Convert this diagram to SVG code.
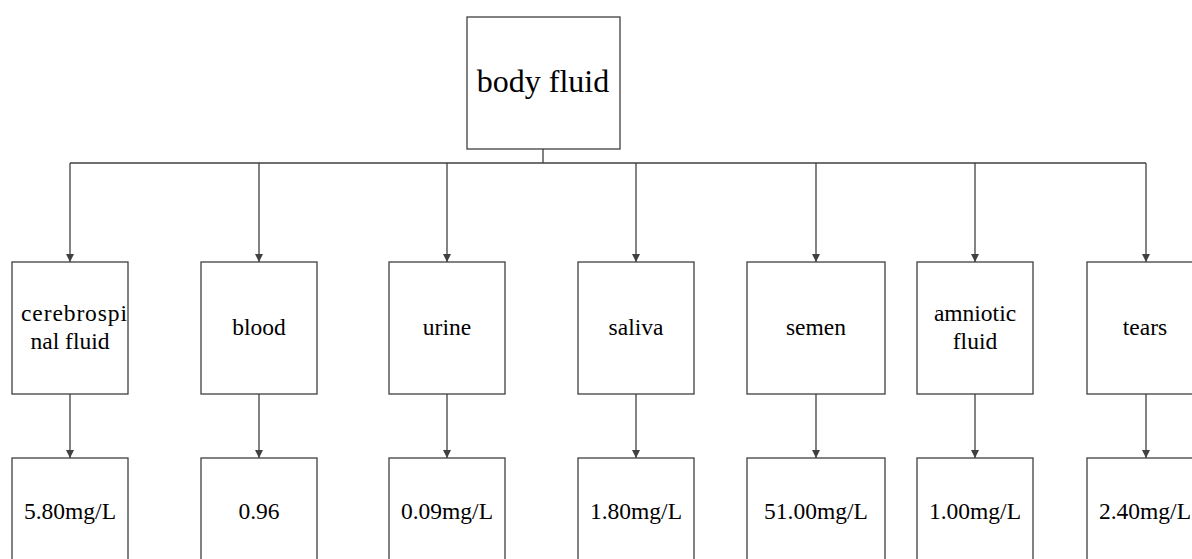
<svg xmlns="http://www.w3.org/2000/svg" width="1192" height="559" viewBox="0 0 1192 559">
<style>
.box{fill:#fff;stroke:#404040;stroke-width:1.3}
text{font-family:'Liberation Serif','Times New Roman',Tinos,'DejaVu Serif',serif;font-size:23.5px;fill:#000;text-anchor:middle}
.big{font-size:32px}
.c{fill:none;stroke:#404040;stroke-width:1.3}
.a{fill:none;stroke:#404040;stroke-width:1.3;marker-end:url(#ah)}
</style>
<defs>
<marker id="ah" viewBox="0 0 10 10" refX="10" refY="5" markerWidth="8" markerHeight="8" markerUnits="userSpaceOnUse" orient="auto">
<path d="M0,0 L10,5 L0,10 z" fill="#404040"/>
</marker>
</defs>
<rect width="1192" height="559" fill="#fff"/>
<g id="connectors">
<path class="c" d="M543,149 V163 M70,163 H1146"/>
<path class="a" d="M70,163 V262"/>
<path class="a" d="M259,163 V262"/>
<path class="a" d="M447,163 V262"/>
<path class="a" d="M636,163 V262"/>
<path class="a" d="M816,163 V262"/>
<path class="a" d="M975,163 V262"/>
<path class="a" d="M1146,163 V262"/>
<path class="a" d="M70,394 V458"/>
<path class="a" d="M259,394 V458"/>
<path class="a" d="M447,394 V458"/>
<path class="a" d="M636,394 V458"/>
<path class="a" d="M816,394 V458"/>
<path class="a" d="M975,394 V458"/>
<path class="a" d="M1146,394 V458"/>
</g>
<g id="body-fluid"><rect class="box" x="467" y="17" width="153" height="132"/><text class="big" x="543" y="92">body fluid</text></g>
<g id="cerebrospinal-fluid"><rect class="box" x="12" y="262" width="116" height="132"/><text x="74" y="321" textLength="106" lengthAdjust="spacing">cerebrospi</text><text x="70" y="349">nal fluid</text></g>
<g id="blood"><rect class="box" x="201" y="262" width="116" height="132"/><text x="259" y="335">blood</text></g>
<g id="urine"><rect class="box" x="389" y="262" width="116" height="132"/><text x="447" y="335">urine</text></g>
<g id="saliva"><rect class="box" x="578" y="262" width="116" height="132"/><text x="636" y="335">saliva</text></g>
<g id="semen"><rect class="box" x="747" y="262" width="138" height="132"/><text x="816" y="335">semen</text></g>
<g id="amniotic-fluid"><rect class="box" x="917" y="262" width="116" height="132"/><text x="975" y="321">amniotic</text><text x="975" y="349">fluid</text></g>
<g id="tears"><rect class="box" x="1087" y="262" width="116" height="132"/><text x="1145" y="335">tears</text></g>
<g id="v-csf"><rect class="box" x="12" y="458" width="116" height="132"/><text x="70" y="519">5.80mg/L</text></g>
<g id="v-blood"><rect class="box" x="201" y="458" width="116" height="132"/><text x="259" y="519">0.96</text></g>
<g id="v-urine"><rect class="box" x="389" y="458" width="116" height="132"/><text x="447" y="519">0.09mg/L</text></g>
<g id="v-saliva"><rect class="box" x="578" y="458" width="116" height="132"/><text x="636" y="519">1.80mg/L</text></g>
<g id="v-semen"><rect class="box" x="747" y="458" width="138" height="132"/><text x="816" y="519">51.00mg/L</text></g>
<g id="v-amniotic"><rect class="box" x="917" y="458" width="116" height="132"/><text x="975" y="519">1.00mg/L</text></g>
<g id="v-tears"><rect class="box" x="1087" y="458" width="116" height="132"/><text x="1145" y="519">2.40mg/L</text></g>
</svg>
